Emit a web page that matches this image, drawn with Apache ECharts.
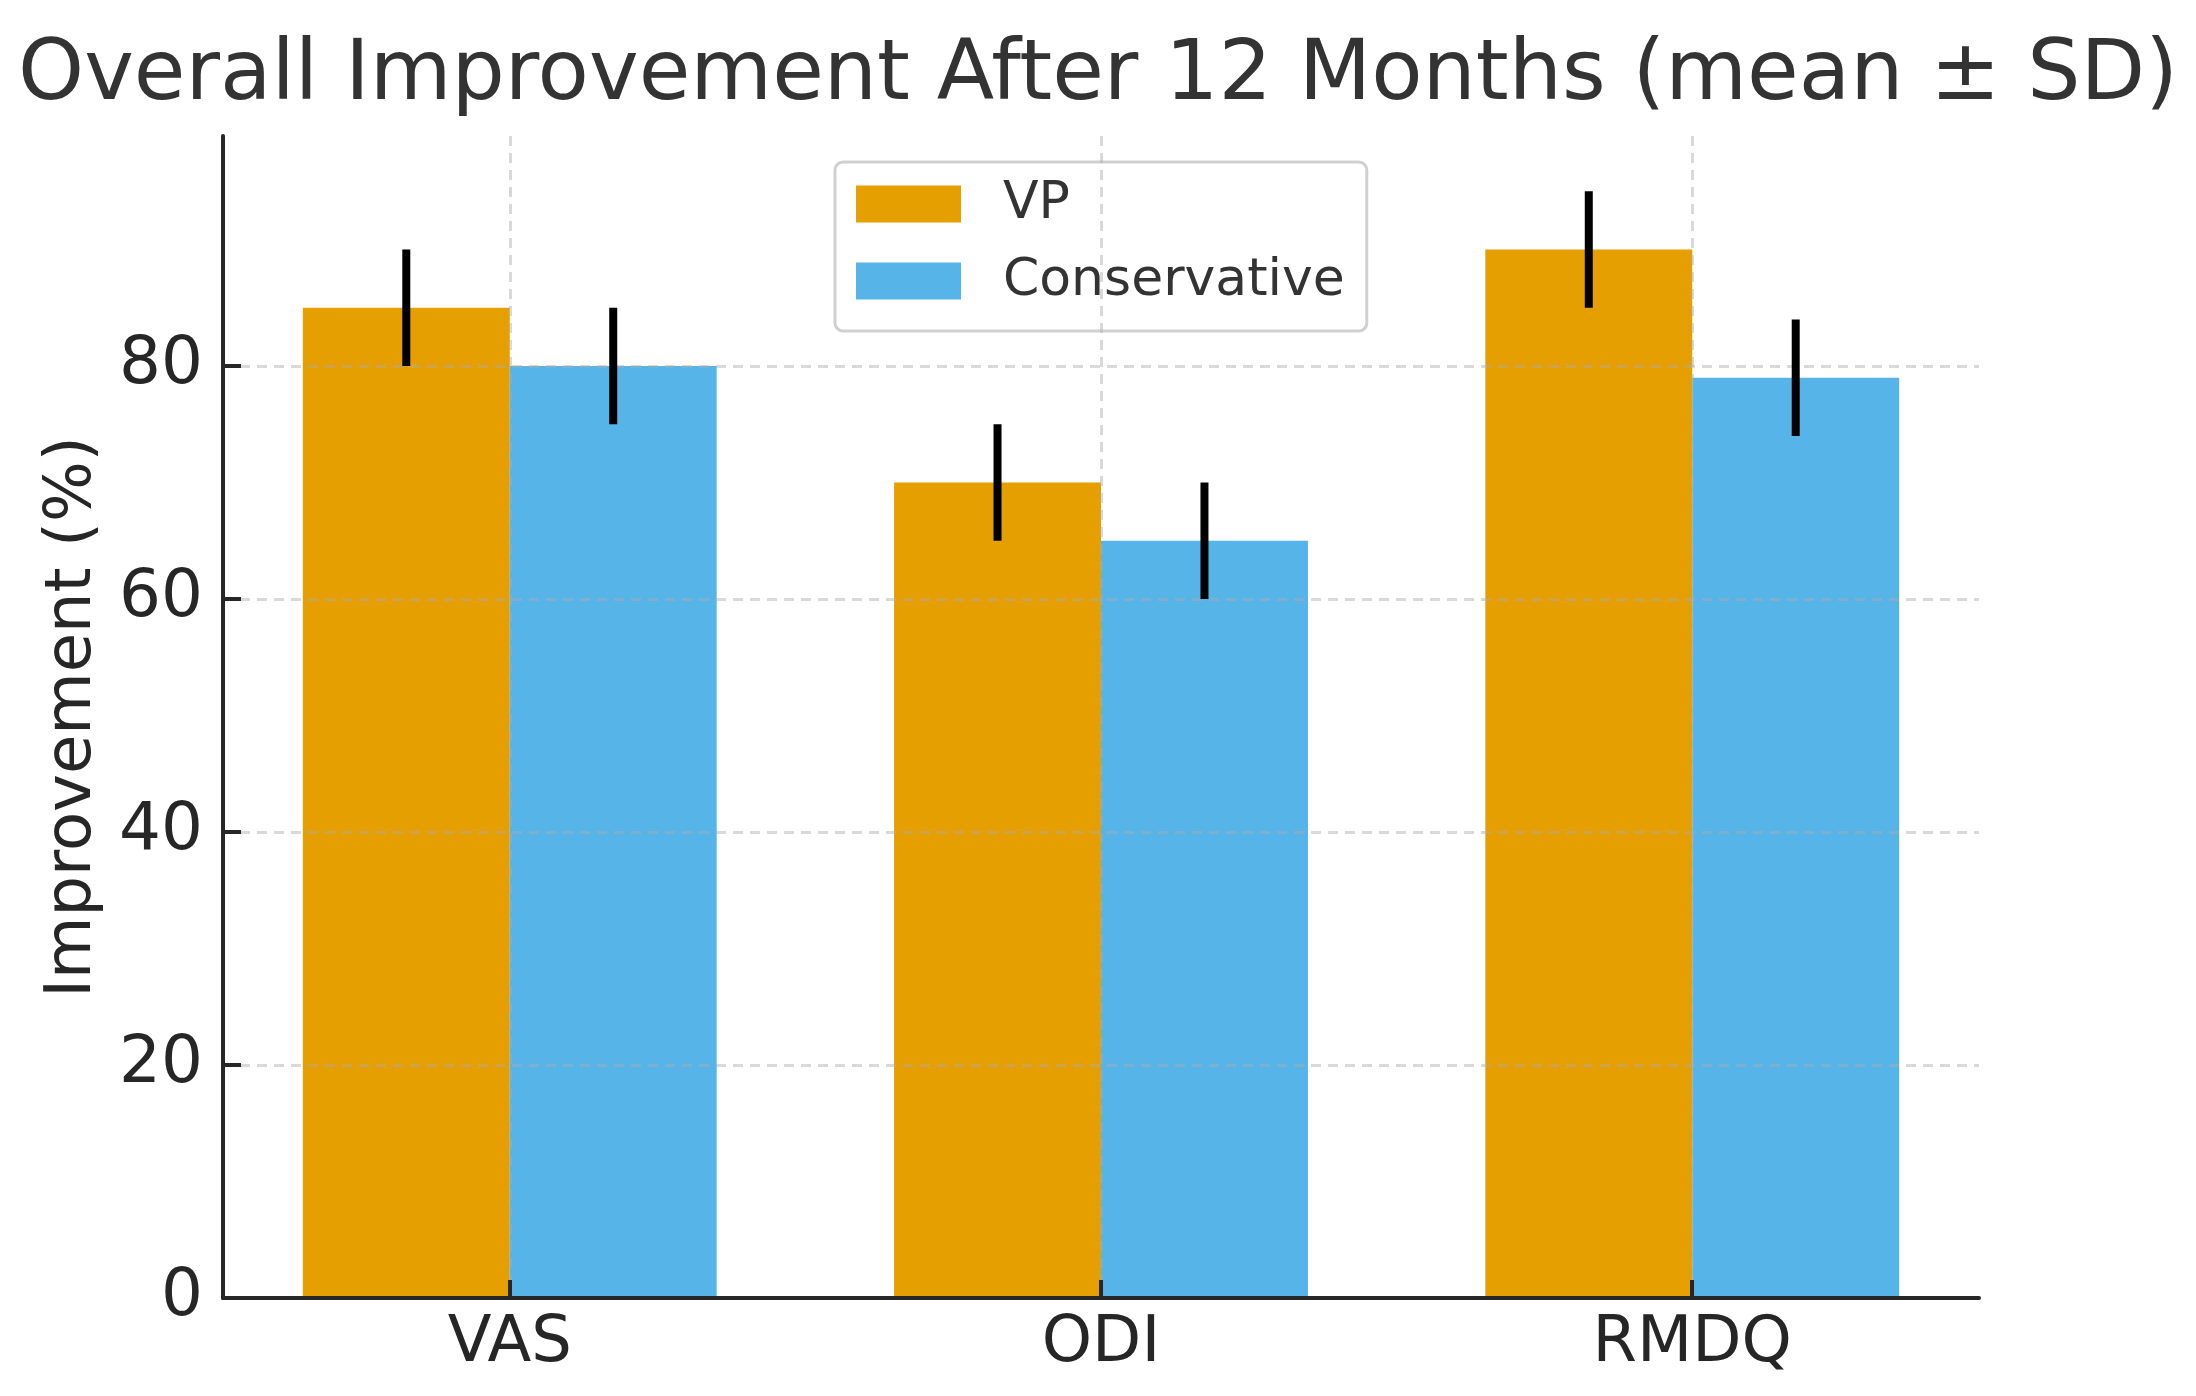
<!DOCTYPE html>
<html>
<head>
<meta charset="utf-8">
<script src="https://cdn.jsdelivr.net/npm/echarts@6/dist/echarts.min.js"></script>
<style>
html,body{margin:0;padding:0;background:#fff;}
#chart{width:2196px;height:1396px;}
</style>
</head>
<body>
<div id="chart"></div>
<script>
// ---- data ----
const categories = ['VAS', 'ODI', 'RMDQ'];
const seriesNames = ['VP', 'Conservative'];
const vpMean = [85, 70, 90];
const vpSD = [5, 5, 5];
const consMean = [80, 65, 79];
const consSD = [5, 5, 5];
const yTicks = [0, 20, 40, 60, 80];

// ---- styling / layout constants ----
const FONT = 'DejaVu Sans';
const TEXT = '#262626';
const COLORS = ['#E69F00', '#56B4E9'];
const BAR_W = 0.35;
const OFFSETS = [-BAR_W / 2, BAR_W / 2];
const catIdx = categories.map((c, i) => i);

const chart = echarts.init(document.getElementById('chart'), null, {renderer: 'canvas'});

function barRender(offset) {
  return function (params, api) {
    const x = api.value(0), y = api.value(1);
    const p0 = api.coord([x + offset - BAR_W / 2, y]);
    const p1 = api.coord([x + offset + BAR_W / 2, 0]);
    return {
      type: 'rect',
      shape: {x: p0[0], y: p0[1], width: p1[0] - p0[0], height: p1[1] - p0[1]},
      style: api.style()
    };
  };
}
function errRender(offset) {
  return function (params, api) {
    const x = api.value(0), m = api.value(1), s = api.value(2);
    const a = api.coord([x + offset, m - s]);
    const b = api.coord([x + offset, m + s]);
    return {
      type: 'line',
      shape: {x1: a[0], y1: a[1], x2: b[0], y2: b[1]},
      style: {stroke: '#000', lineWidth: 8, lineCap: 'butt'}
    };
  };
}

const means = [vpMean, consMean];
const sds = [vpSD, consSD];
const series = [];
seriesNames.forEach((name, k) => {
  series.push({
    name: name,
    type: 'custom',
    renderItem: barRender(OFFSETS[k]),
    encode: {x: 0, y: 1},
    itemStyle: {color: COLORS[k]},
    z: 1,
    data: catIdx.map(i => [i, means[k][i]])
  });
});
seriesNames.forEach((name, k) => {
  series.push({
    name: name + ' SD',
    type: 'custom',
    renderItem: errRender(OFFSETS[k]),
    encode: {x: 0, y: [1]},
    z: 10,
    silent: true,
    data: catIdx.map(i => [i, means[k][i], sds[k][i]])
  });
});

const gridLine = {show: true, lineStyle: {color: 'rgba(170,170,170,0.45)', width: 3, type: [10, 7]}};

chart.setOption({
  animation: false,
  backgroundColor: '#fff',
  textStyle: {fontFamily: FONT},
  title: {
    text: 'Overall Improvement After 12 Months (mean ± SD)',
    left: 'center',
    top: 30,
    textStyle: {fontFamily: FONT, fontSize: 84, fontWeight: 'normal', color: '#333'}
  },
  legend: {
    data: seriesNames.map(n => ({name: n, icon: 'rect'})),
    orient: 'vertical',
    left: 835,
    top: 162,
    itemWidth: 105,
    itemHeight: 37,
    itemGap: 25,
    padding: [16, 22, 24, 21],
    backgroundColor: 'rgba(255,255,255,0.8)',
    borderColor: '#d0d0d0',
    borderWidth: 3,
    borderRadius: 8,
    textStyle: {fontFamily: FONT, fontSize: 52, color: '#333', padding: [0, 0, 0, 37]}
  },
  grid: {left: 223, right: 217, top: 136, bottom: 98, containLabel: false},
  xAxis: {
    type: 'value',
    min: -0.485,
    max: 2.485,
    z: 5,
    axisLine: {show: true, onZero: false, lineStyle: {color: TEXT, width: 4}},
    axisTick: {show: true, inside: true, length: 18, customValues: catIdx, lineStyle: {color: TEXT, width: 4}},
    axisLabel: {
      customValues: catIdx,
      formatter: v => categories[Math.round(v)],
      fontFamily: FONT, fontSize: 64, color: TEXT, margin: 14
    },
    splitLine: gridLine
  },
  yAxis: {
    type: 'value',
    min: 0,
    max: 99.75,
    z: 5,
    name: 'Improvement (%)',
    nameLocation: 'middle',
    nameRotate: 90,
    nameGap: 118,
    nameTextStyle: {fontFamily: FONT, fontSize: 64, color: TEXT},
    axisLine: {show: true, onZero: false, lineStyle: {color: TEXT, width: 4}},
    axisTick: {show: true, inside: true, length: 18, customValues: yTicks, lineStyle: {color: TEXT, width: 4}},
    axisLabel: {customValues: yTicks, fontFamily: FONT, fontSize: 66, color: TEXT, margin: 20},
    splitLine: gridLine
  },
  series: series
});
</script>
</body>
</html>
